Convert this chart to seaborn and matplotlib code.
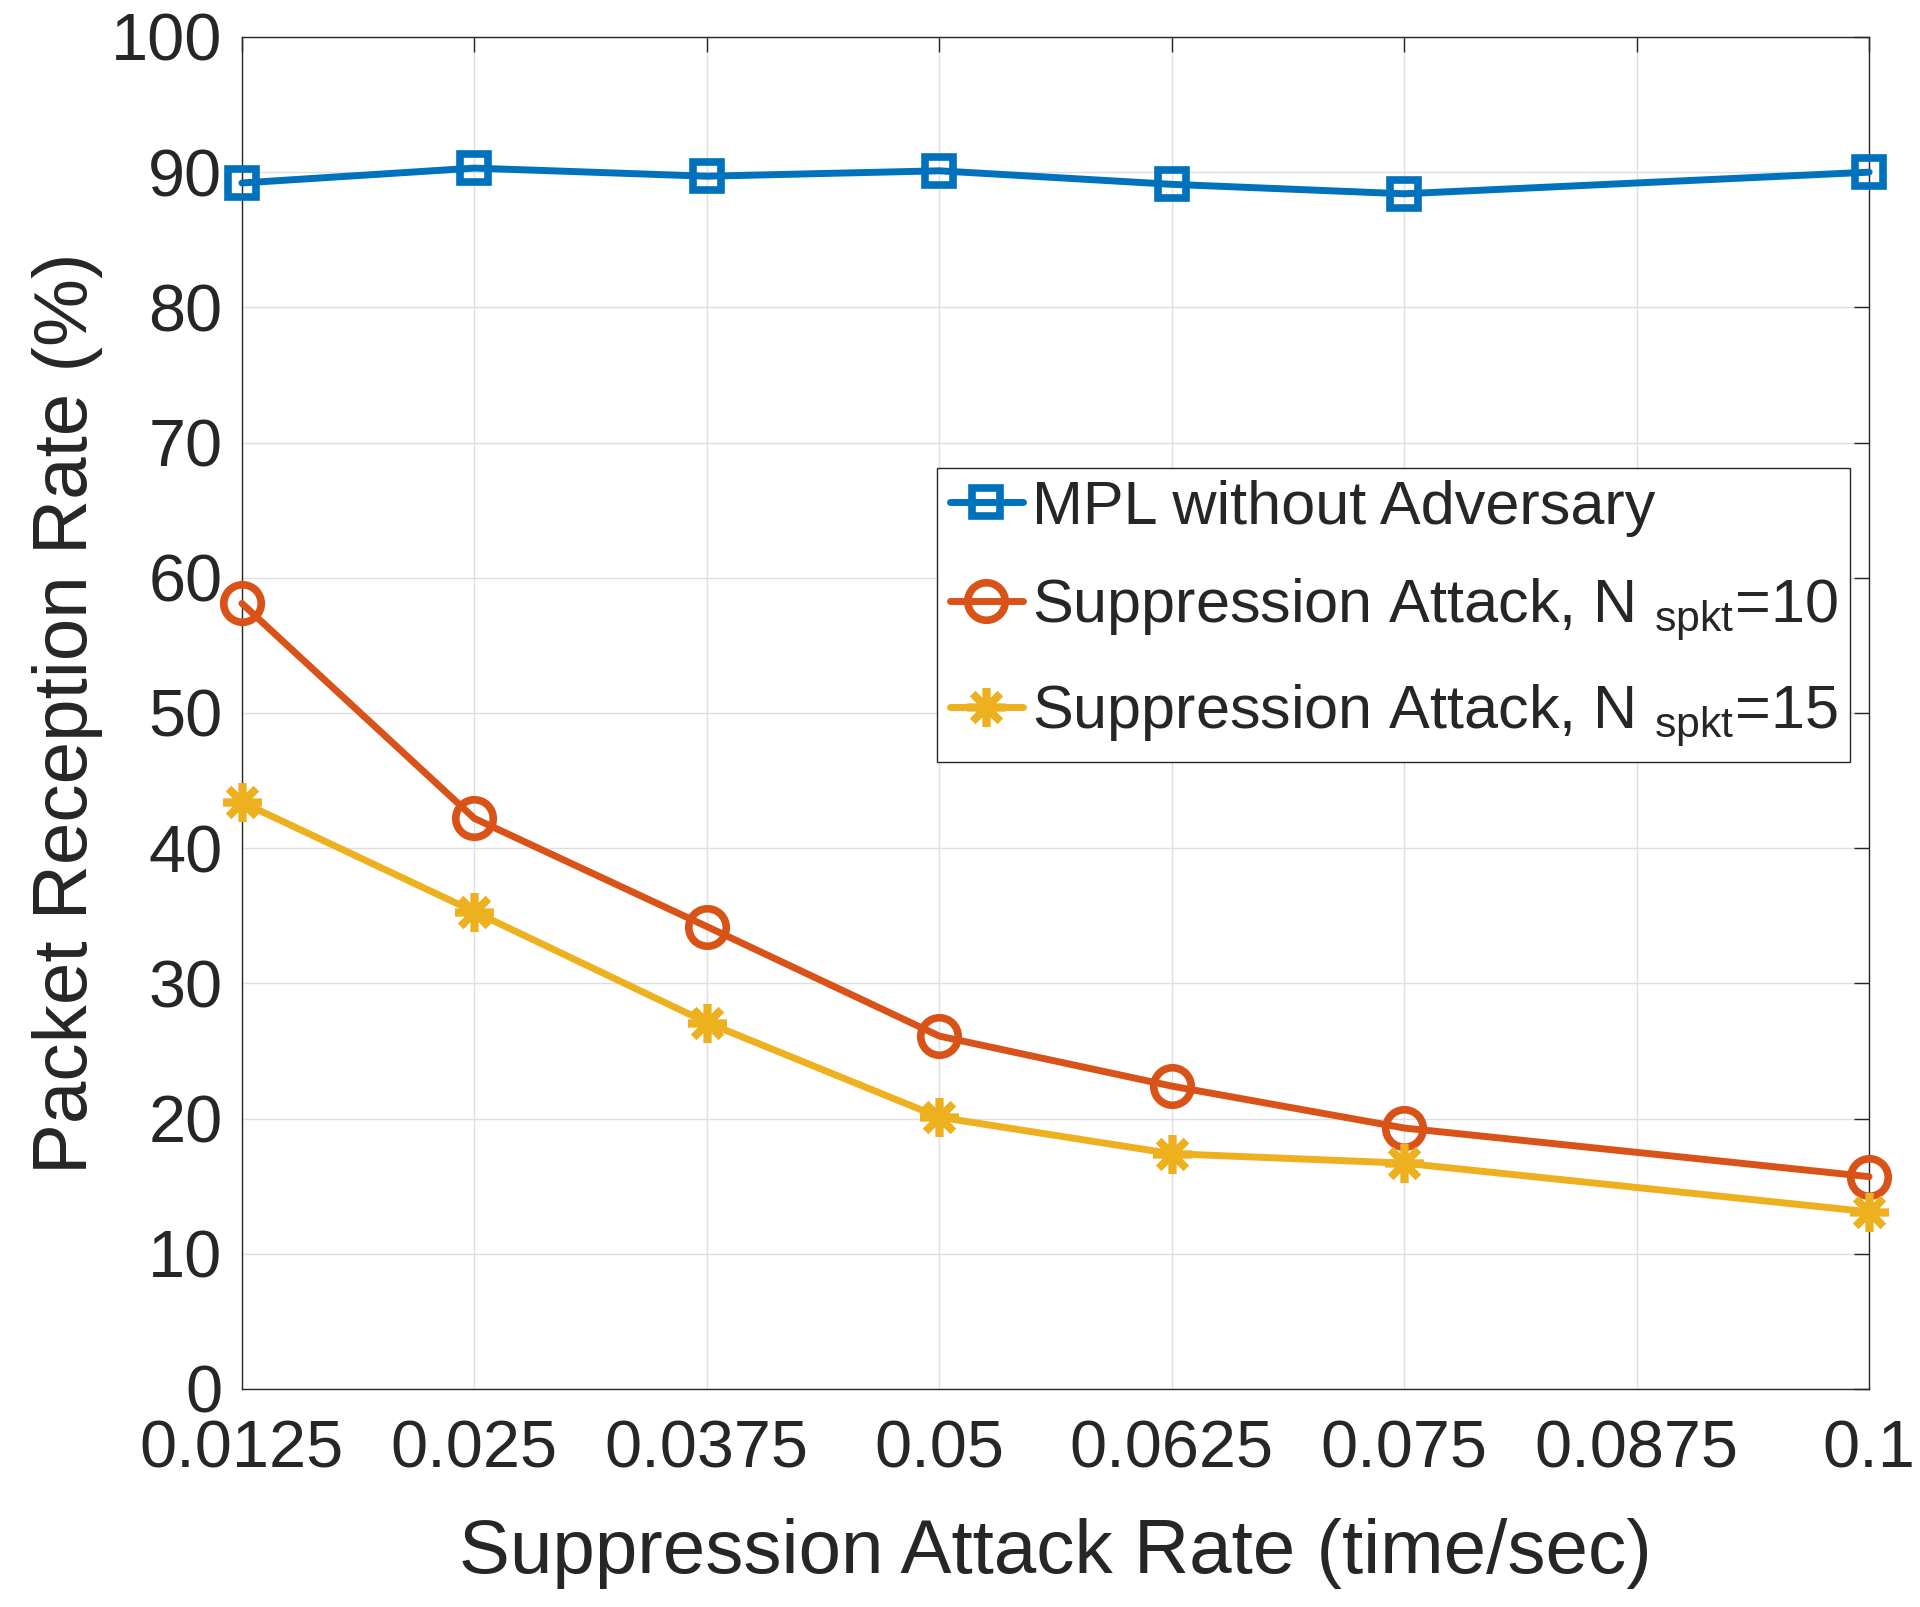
import numpy as np
import pandas as pd
import matplotlib
matplotlib.use("Agg")
import matplotlib.pyplot as plt
import seaborn as sns

# ==========================================
# Data
# ==========================================

attack_rate = [0.0125, 0.025, 0.0375, 0.05, 0.0625, 0.075, 0.1]

prr_no_adversary = [89.2, 90.3, 89.7, 90.1, 89.1, 88.4, 90.0]
prr_spkt_10 = [58.1, 42.2, 34.2, 26.1, 22.4, 19.3, 15.7]
prr_spkt_15 = [43.4, 35.3, 27.1, 20.1, 17.4, 16.7, 13.1]

series_names = [
    "MPL without Adversary",
    r"Suppression Attack, N ${}_{\mathregular{spkt}}$=10",
    r"Suppression Attack, N ${}_{\mathregular{spkt}}$=15",
]

x_ticks = [0.0125, 0.025, 0.0375, 0.05, 0.0625, 0.075, 0.0875, 0.1]
x_tick_labels = ["0.0125", "0.025", "0.0375", "0.05", "0.0625", "0.075", "0.0875", "0.1"]
y_ticks = [0, 10, 20, 30, 40, 50, 60, 70, 80, 90, 100]

# long-form table for seaborn
df = pd.DataFrame({
    "rate": attack_rate * 3,
    "prr": prr_no_adversary + prr_spkt_10 + prr_spkt_15,
    "series": [series_names[0]] * 7 + [series_names[1]] * 7 + [series_names[2]] * 7,
})

# ==========================================
# Style
# ==========================================

sns.set_theme(style="white")
plt.rcParams["font.family"] = ["Liberation Sans", "DejaVu Sans"]
plt.rcParams["mathtext.fontset"] = "custom"
plt.rcParams["mathtext.rm"] = "Liberation Sans"
plt.rcParams["mathtext.it"] = "Liberation Sans:italic"
plt.rcParams["mathtext.bf"] = "Liberation Sans:bold"

colors = ["#0072BD", "#D95319", "#EDB120"]
markers = ["s", "o", (8, 2, 0)]
marker_sizes = [20, 27, 28]

fig = plt.figure(figsize=(19.2, 16.07), dpi=100)
ax = fig.add_axes([0.126, 0.1357, 0.8475, 0.8413])

for name, col, mk, ms in zip(series_names, colors, markers, marker_sizes):
    sub = df[df["series"] == name]
    sns.lineplot(
        data=sub, x="rate", y="prr", ax=ax,
        color=col, linewidth=5, marker=mk, markersize=ms,
        markerfacecolor="none", markeredgecolor=col, markeredgewidth=5.5,
        label=name, legend=False, clip_on=False, zorder=3,
    )

# ==========================================
# Axes
# ==========================================

ax.set_xlim(0.0125, 0.1)
ax.set_ylim(0, 100)
ax.set_xticks(x_ticks)
ax.set_xticklabels(x_tick_labels)
ax.set_yticks(y_ticks)

ax.grid(True, color="#dfdfdf", linewidth=1.0)
ax.set_axisbelow(True)

for side in ["top", "bottom", "left", "right"]:
    ax.spines[side].set_visible(True)
    ax.spines[side].set_color("#262626")
    ax.spines[side].set_linewidth(1.0)

ax.tick_params(axis="both", which="major", direction="in", length=11,
               width=1.0, color="#262626", labelcolor="#262626",
               labelsize=48, top=True, right=True, pad=14)
ax.tick_params(axis="x", pad=22)

ax.set_xlabel("Suppression Attack Rate (time/sec)", fontsize=55,
              color="#262626", labelpad=26)
ax.set_ylabel("Packet Reception Rate (%)", fontsize=55,
              color="#262626", labelpad=6)

# ==========================================
# Legend
# ==========================================

leg = ax.legend(
    loc="upper right", bbox_to_anchor=(0.9635, 0.709),
    bbox_transform=fig.transFigure,
    fontsize=44, frameon=True, fancybox=False, framealpha=1,
    edgecolor="#262626", handlelength=1.2, handletextpad=0.15,
    borderpad=0.2, labelspacing=0.65, borderaxespad=0, numpoints=1,
)
leg.get_frame().set_linewidth(1.0)

fig.savefig("out.png", dpi=100)
